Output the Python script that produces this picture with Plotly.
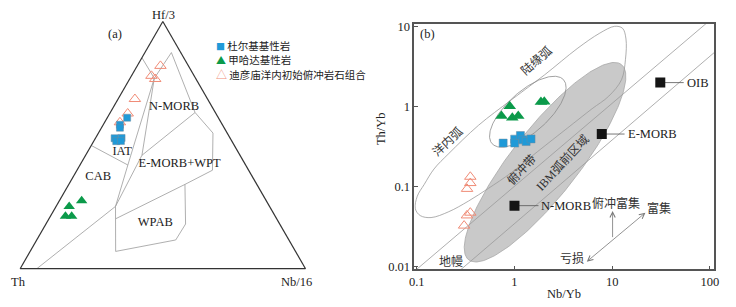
import numpy as np
import plotly.graph_objects as go

# ---------------- (a) Hf/3 - Th - Nb/16 ternary (fractions) ----------------
dur_hf = [0.611, 0.5825, 0.5706, 0.5279, 0.516, 0.5291, 0.5172]
dur_th = [0.3195, 0.3591, 0.365, 0.405, 0.4053, 0.38, 0.3882]
dur_nb = [0.0695, 0.0584, 0.0644, 0.0671, 0.0787, 0.0909, 0.0946]

jhd_hf = [0.2746, 0.2521, 0.2125, 0.2125]
jhd_th = [0.6472, 0.7021, 0.735, 0.7132]
jhd_nb = [0.0782, 0.0458, 0.0525, 0.0743]

dym_hf = [0.8207, 0.7804, 0.7677, 0.6866, 0.628, 0.5924]
dym_th = [0.098, 0.1497, 0.1428, 0.2546, 0.3091, 0.3541]
dym_nb = [0.0813, 0.0699, 0.0895, 0.0588, 0.0629, 0.0535]

# field boundary vertices (Hf/3, Th, Nb/16)
B0 = (0.0, 0.9417, 0.0583)
K = (0.2521, 0.5398, 0.2081)
J1 = (0.7705, 0.1447, 0.0848)
E = (0.459, 0.3437, 0.1973)
W1 = (0.2018, 0.5648, 0.2334)
W2 = (0.07, 0.6303, 0.2997)
W3 = (0.1163, 0.3966, 0.4871)
W4 = (0.1808, 0.3299, 0.4893)
R4 = (0.3411, 0.2519, 0.407)
R3 = (0.3985, 0.1269, 0.4746)
R2 = (0.5489, 0.0498, 0.4013)
R1 = (0.632, 0.071, 0.297)
Q = (0.8746, 0.0327, 0.0927)
L1 = (0.8536, 0.1464, 0.0)
IATL = (0.4986, 0.5014, 0.0)
D1 = (0.4195, 0.4128, 0.1677)

ternary_fields = [
    [B0, K, D1, J1],
    [K, E, J1],
    [L1, J1, Q, R1, R2, R3, R4, W1, K],
    [W1, W2, W3, W4, R4],
    [R1, E],
    [IATL, D1],
]

ternary_labels = ["N-MORB", "IAT", "CAB", "E-MORB+WPT", "WPAB"]
ternary_label_pos = [(0.6545, 0.1333, 0.2122), (0.4725, 0.4062, 0.1213),
                     (0.3708, 0.541, 0.0882), (0.4234, 0.2297, 0.3469),
                     (0.186, 0.4334, 0.3806)]

# ---------------- (b) Nb/Yb - Th/Yb ----------------
dur_nbyb = [0.766, 1.005, 1.005, 1.15, 1.219, 1.316, 1.478]
dur_thyb = [0.350, 0.392, 0.350, 0.435, 0.384, 0.366, 0.395]
jhd_nbyb = [0.894, 0.736, 0.950, 1.093, 1.865, 2.018]
jhd_thyb = [1.01, 0.764, 0.723, 0.764, 1.139, 1.148]
dym_nbyb = [0.353, 0.353, 0.327, 0.353, 0.326, 0.305]
dym_thyb = [0.133, 0.111, 0.0939, 0.0474, 0.0438, 0.0327]

ref_names = ["N-MORB", "E-MORB", "OIB"]
ref_nbyb = [1.0, 7.83, 31.1]
ref_thyb = [0.058, 0.454, 1.99]
ref_label_nbyb = [1.76, 13.4, 54.0]

# arc field outline (continental margin arc / intra-oceanic arc)
arc_nbyb = [0.922, 2.033, 4.378, 7.475, 10.6, 12.77, 13.85, 13.69, 12.47, 9.22, 6.21, 3.47,
            1.727, 0.922, 0.54, 0.339, 0.2129, 0.140, 0.1085, 0.0966, 0.1012, 0.119, 0.150,
            0.2129, 0.428, 0.922]
arc_thyb = [1.204, 2.486, 5.28, 8.25, 10.03, 9.48, 6.98, 3.886, 2.163, 1.346, 0.937, 0.5364,
            0.2747, 0.1487, 0.0952, 0.0663, 0.0488, 0.0412, 0.0436, 0.0530, 0.0762, 0.1065,
            0.1663, 0.2598, 0.5832, 1.204]

# ellipse fields: centre (Nb/Yb, Th/Yb) and conjugate semi-diameters in decades
ibm_center = (2.056, 0.2021)
ibm_semi_a = (0.781, 1.2196)
ibm_semi_b = (0.2727, -0.2507)
sub_center = (1.369, 0.862)
sub_semi_a = (0.3647, 0.4009)
sub_semi_b = (0.1432, -0.1874)

# MORB-OIB mantle array lines
mantle_upper_nbyb = [0.0933, 100.0]
mantle_upper_thyb = [0.00869, 11.9]
mantle_lower_nbyb = [0.251, 111.0]
mantle_lower_thyb = [0.00817, 4.72]

x_ticks = [0.1, 1, 10, 100]
y_ticks = [0.01, 0.1, 1, 10]

# ---------------- styles ----------------
W, H = 736, 307
LAT = "Liberation Serif"
MIX = "Liberation Serif, Noto Sans CJK SC"
CJK = "Noto Sans CJK SC"
BLUE = "#1f9ad8"
GREEN = "#0b9a4a"
PINK = "#f08b76"
FIELD = "#9a9a9a"
TXT = "#222222"


def pxx(x):
    return x / W


def pxy(y):
    return 1 - y / H


fig = go.Figure()

# ---- ternary fields
for poly in ternary_fields:
    fig.add_trace(go.Scatterternary(
        a=[p[0] for p in poly], b=[p[1] for p in poly], c=[p[2] for p in poly],
        mode="lines", line=dict(color=FIELD, width=0.8), hoverinfo="skip", showlegend=False))

fig.add_trace(go.Scatterternary(
    a=[p[0] for p in ternary_label_pos], b=[p[1] for p in ternary_label_pos],
    c=[p[2] for p in ternary_label_pos], mode="text", text=ternary_labels,
    textfont=dict(family=LAT, size=12.5, color=TXT), hoverinfo="skip", showlegend=False))

fig.add_trace(go.Scatterternary(
    a=dym_hf, b=dym_th, c=dym_nb, mode="markers", name="迪彦庙洋内初始俯冲岩石组合",
    marker=dict(symbol="triangle-up-open", size=10, color=PINK, line=dict(width=1)), showlegend=False))
fig.add_trace(go.Scatterternary(
    a=dur_hf, b=dur_th, c=dur_nb, mode="markers", name="杜尔基基性岩",
    marker=dict(symbol="square", size=7, color=BLUE, line=dict(color="#6a8aa0", width=0.5)), showlegend=False))
fig.add_trace(go.Scatterternary(
    a=jhd_hf, b=jhd_th, c=jhd_nb, mode="markers", name="甲哈达基性岩",
    marker=dict(symbol="triangle-up", size=10, color=GREEN, line=dict(width=0)), showlegend=False))

# ---- (b) fields
t = np.linspace(0, 2 * np.pi, 241)


def ellipse(center, sa, sb):
    lx = np.log10(center[0]) + sa[0] * np.cos(t) + sb[0] * np.sin(t)
    ly = np.log10(center[1]) + sa[1] * np.cos(t) + sb[1] * np.sin(t)
    return 10 ** lx, 10 ** ly


ix, iy = ellipse(ibm_center, ibm_semi_a, ibm_semi_b)
fig.add_trace(go.Scatter(x=ix, y=iy, mode="lines", fill="toself", fillcolor="#c9c9c9",
                         line=dict(color="#a8a8a8", width=0.8), hoverinfo="skip", showlegend=False))
fig.add_trace(go.Scatter(x=mantle_upper_nbyb, y=mantle_upper_thyb, mode="lines",
                         line=dict(color=FIELD, width=0.8), hoverinfo="skip", showlegend=False))
fig.add_trace(go.Scatter(x=mantle_lower_nbyb, y=mantle_lower_thyb, mode="lines",
                         line=dict(color=FIELD, width=0.8), hoverinfo="skip", showlegend=False))
fig.add_trace(go.Scatter(x=arc_nbyb, y=arc_thyb, mode="lines", line_shape="spline",
                         line=dict(color=FIELD, width=0.8), hoverinfo="skip", showlegend=False))
sx, sy = ellipse(sub_center, sub_semi_a, sub_semi_b)
fig.add_trace(go.Scatter(x=sx, y=sy, mode="lines", line=dict(color="#8a8a8a", width=0.8),
                         hoverinfo="skip", showlegend=False))

# leader lines
for xn, yn, xl in zip(ref_nbyb, ref_thyb, ref_label_nbyb):
    fig.add_trace(go.Scatter(x=[xn, xl], y=[yn, yn], mode="lines",
                             line=dict(color="#555555", width=0.8), hoverinfo="skip", showlegend=False))

fig.add_trace(go.Scatter(x=ref_nbyb, y=ref_thyb, mode="markers", name="reference",
                         marker=dict(symbol="square", size=10, color="#151515"), showlegend=False))
fig.add_trace(go.Scatter(x=dym_nbyb, y=dym_thyb, mode="markers",
                         marker=dict(symbol="triangle-up-open", size=10, color=PINK, line=dict(width=1)),
                         showlegend=False))
fig.add_trace(go.Scatter(x=dur_nbyb, y=dur_thyb, mode="markers",
                         marker=dict(symbol="square", size=8, color=BLUE, line=dict(color="#6a8aa0", width=0.5)),
                         showlegend=False))
fig.add_trace(go.Scatter(x=jhd_nbyb, y=jhd_thyb, mode="markers",
                         marker=dict(symbol="triangle-up", size=11, color=GREEN, line=dict(width=0)),
                         showlegend=False))

ann = []
# reference labels
for name, xl, yn in zip(ref_names, ref_label_nbyb, ref_thyb):
    ann.append(dict(x=np.log10(xl), y=np.log10(yn), xref="x", yref="y", text=name, showarrow=False,
                    xanchor="left", yanchor="middle", xshift=1, font=dict(family=LAT, size=12.5, color=TXT)))

# field labels in (b): (text, Nb/Yb, Th/Yb, angle)
b_labels = [("洋内弧", 0.2046, 0.37, -43), ("陆缘弧", 1.661, 3.78, -41), ("俯冲带", 1.17, 0.166, -47),
            ("IBM弧前区域", 3.09, 0.2, -47), ("地幔", 0.2215, 0.01175, 0), ("俯冲富集", 10.9, 0.061, 0),
            ("富集", 30.0, 0.0535, 0), ("亏损", 3.9, 0.01254, 0)]
for txt, xv, yv, ang in b_labels:
    ann.append(dict(x=np.log10(xv), y=np.log10(yv), xref="x", yref="y", text=txt, showarrow=False,
                    xanchor="center", yanchor="middle", textangle=ang,
                    font=dict(family=MIX, size=12, color="#333333")))

# arrows
ann.append(dict(x=np.log10(10.1), y=np.log10(0.0497), ax=np.log10(10.1), ay=np.log10(0.0225),
                xref="x", yref="y", axref="x", ayref="y", showarrow=True, arrowhead=5, arrowsize=1.3,
                arrowwidth=0.8, arrowcolor="#777777", text=""))
ann.append(dict(x=np.log10(21.9), y=np.log10(0.0474), ax=np.log10(5.31), ay=np.log10(0.0112),
                xref="x", yref="y", axref="x", ayref="y", showarrow=True, arrowhead=5, startarrowhead=5,
                arrowside="end+start", arrowsize=1.3, startarrowsize=1.3, arrowwidth=0.8,
                arrowcolor="#777777", text=""))

# axis titles / panel labels / vertex labels (paper position in px, anchor)
paper_texts = [("Nb/Yb", 567, 298.5, "center", 0), ("Th/Yb", 381, 128, "center", -90),
               ("(b)", 428.5, 31.3, "center", 0), ("(a)", 111.7, 30.7, "center", 0),
               ("Hf/3", 161, 11.5, "center", 0), ("Th", 4, 286.7, "left", 0),
               ("Nb/16", 313, 286.7, "right", 0)]
for txt, xx, yy, xa, ang in paper_texts:
    ann.append(dict(x=pxx(xx), y=pxy(yy), xref="paper", yref="paper", text=txt, showarrow=False,
                    xanchor=xa, yanchor="middle", textangle=ang,
                    font=dict(family=LAT, size=12.5, color=TXT)))

# legend (a): coloured symbol + label in one text
legend_items = [("■", BLUE, 9, "杜尔基基性岩", 42.7), ("▲", GREEN, 10, "甲哈达基性岩", 57.5),
                ("△", PINK, 11, "迪彦庙洋内初始俯冲岩石组合", 72.5)]
for glyph, col, gsize, label, yy in legend_items:
    ann.append(dict(x=pxx(212.5), y=pxy(yy), xref="paper", yref="paper",
                    text=f'<span style="color:{col};font-size:{gsize}px">{glyph}</span> {label}',
                    showarrow=False, xanchor="left", yanchor="middle", borderpad=0,
                    font=dict(family=CJK, size=10.5, color=TXT)))

tern_axis = dict(showgrid=False, showticklabels=False, ticks="", linecolor="#333333", linewidth=1.2,
                 title=dict(text=""), min=0)

axis_common = dict(type="log", showline=True, mirror=True, linecolor="#555555", linewidth=1.5,
                   ticks="inside", ticklen=4, tickwidth=1, tickcolor="#555555", showgrid=False,
                   zeroline=False, tickfont=dict(family=LAT, size=12.5, color=TXT))

fig.update_layout(
    width=W, height=H, margin=dict(l=0, r=0, t=0, b=0),
    paper_bgcolor="white", plot_bgcolor="white", showlegend=False,
    ternary=dict(domain=dict(x=[pxx(13), pxx(307)], y=[pxy(272.7), pxy(18.1)]), sum=1,
                 bgcolor="white", aaxis=tern_axis, baxis=tern_axis, caxis=tern_axis),
    xaxis=dict(axis_common, domain=[pxx(415), pxx(719)], range=[-1.025, 2.045],
               tickvals=x_ticks, ticktext=[str(v) for v in x_ticks], anchor="y"),
    yaxis=dict(axis_common, domain=[pxy(273.5), pxy(20.7)], range=[-2.033, 1.029],
               tickvals=y_ticks, ticktext=[str(v) for v in y_ticks], anchor="x"),
    annotations=ann,
)

fig.write_html("out.html", config={"displayModeBar": False},
               post_script="document.body.style.margin='0';document.body.style.padding='0';")
